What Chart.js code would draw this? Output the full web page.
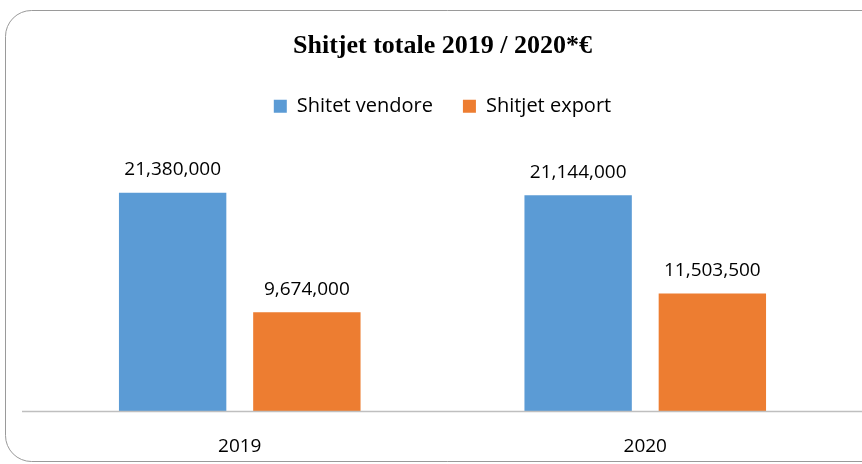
<!DOCTYPE html>
<html>
<head>
<meta charset="utf-8">
<script src="https://cdn.jsdelivr.net/npm/chart.js@4/dist/chart.umd.min.js"></script>
<style>
html,body{margin:0;padding:0;background:#fff;}
#wrap{width:862px;height:464px;position:relative;}
</style>
</head>
<body>
<div id="wrap"><canvas id="c" width="862" height="464"></canvas></div>
<script>
const categories = ["2019", "2020"];
const seriesNames = ["Shitet vendore", "Shitjet export"];
const shitetVendore = [21380000, 21144000];
const shitjetExport = [9674000, 11503500];
const titleText = "Shitjet totale 2019 / 2020*€";

const frame = {
  id: 'frame',
  beforeDraw(chart) {
    const ctx = chart.ctx;
    ctx.save();
    ctx.fillStyle = '#fff';
    ctx.fillRect(0, 0, chart.width, chart.height);
    ctx.strokeStyle = '#9a9a9a';
    ctx.lineWidth = 1;
    ctx.beginPath();
    ctx.roundRect(5.5, 10.5, 900, 451, 26);
    ctx.stroke();
    ctx.restore();
  },
  afterDatasetsDraw(chart) {
    const ctx = chart.ctx;
    const y = Math.round(chart.scales.y.getPixelForValue(0)) + 0.5;
    ctx.save();
    ctx.strokeStyle = '#bfbfbf';
    ctx.lineWidth = 1.5;
    ctx.beginPath();
    ctx.moveTo(22, y);
    ctx.lineTo(862, y);
    ctx.stroke();
    ctx.fillStyle = '#000';
    ctx.font = '19px "Open Sans"';
    ctx.textAlign = 'center';
    ctx.textBaseline = 'middle';
    chart.data.datasets.forEach((ds, i) => {
      chart.getDatasetMeta(i).data.forEach((el, j) => {
        ctx.fillText(ds.data[j].toLocaleString('en-US'), el.x, el.y - 23);
      });
    });
    ctx.restore();
  }
};

new Chart(document.getElementById('c'), {
  type: 'bar',
  data: {
    labels: categories,
    datasets: [
      { label: seriesNames[0], data: shitetVendore, backgroundColor: '#5B9BD5', barPercentage: 0.8, categoryPercentage: 0.662 },
      { label: seriesNames[1], data: shitjetExport, backgroundColor: '#ED7D31', barPercentage: 0.8, categoryPercentage: 0.662 }
    ]
  },
  options: {
    responsive: false,
    animation: false,
    layout: { padding: { left: 37, right: 14, top: 0, bottom: 6 } },
    plugins: {
      title: {
        display: true,
        text: titleText,
        color: '#000',
        font: { family: '"Liberation Serif"', size: 26, weight: 'bold' },
        padding: { top: 31, bottom: 4 }
      },
      legend: {
        display: true,
        labels: {
          color: '#000',
          font: { family: '"Open Sans"', size: 20 },
          boxWidth: 13, boxHeight: 13, padding: 30
        }
      },
      tooltip: { enabled: false }
    },
    scales: {
      x: {
        grid: { display: false, drawTicks: false },
        border: { display: false },
        ticks: { color: '#000', font: { family: '"Open Sans"', size: 19 }, padding: 24 },
        afterFit(scale) { scale.height = 47; }
      },
      y: {
        display: false,
        min: 0,
        max: 27900000
      }
    }
  },
  plugins: [frame]
});
</script>
</body>
</html>
